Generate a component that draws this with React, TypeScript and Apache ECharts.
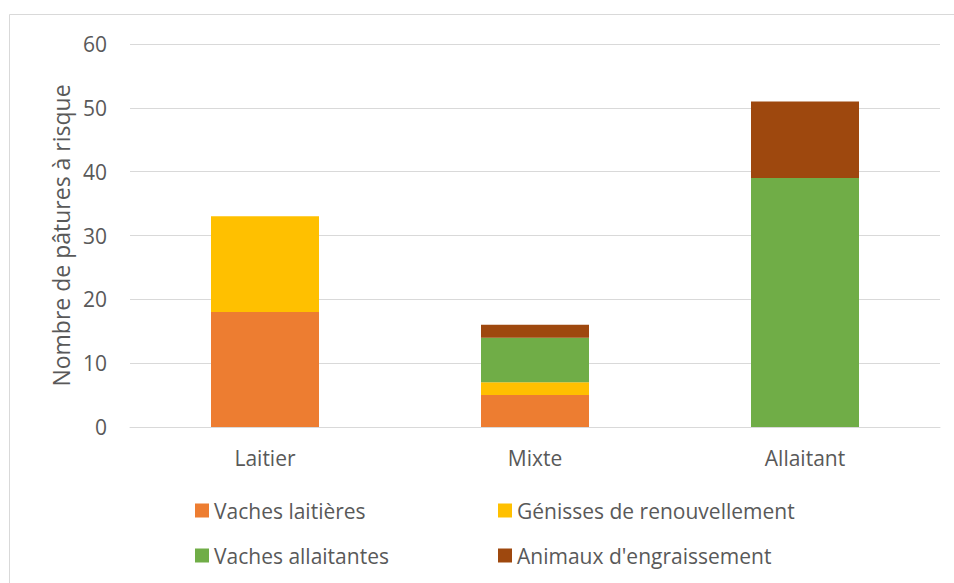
import React, { useEffect, useRef } from "react";
import * as echarts from "echarts";

const categories = ["Laitier", "Mixte", "Allaitant"];
const seriesNames = [
  "Vaches laitières",
  "Génisses de renouvellement",
  "Vaches allaitantes",
  "Animaux d'engraissement",
];
const vachesLaitieres = [18, 5, 0];
const genisses = [15, 2, 0];
const vachesAllaitantes = [0, 7, 39];
const animauxEngraissement = [0, 2, 12];
const colors = ["#ED7D31", "#FFC000", "#70AD47", "#9E480E"];
const yTicks = [0, 10, 20, 30, 40, 50, 60];

const FONT = "Open Sans";
const TEXT = "#595959";

export default function App() {
  const ref = useRef<HTMLDivElement>(null);
  useEffect(() => {
    document.body.style.margin = "0";
    const chart = echarts.init(ref.current!, null, { renderer: "svg" });
    const values = [vachesLaitieres, genisses, vachesAllaitantes, animauxEngraissement];
    const legendPos = [
      { left: 195, top: 500 },
      { left: 498, top: 500 },
      { left: 195, top: 545 },
      { left: 498, top: 545 },
    ];
    chart.setOption({
      animation: false,
      textStyle: { fontFamily: FONT },
      grid: { left: 130, right: 14, top: 44, bottom: 156 },
      graphic: [
        {
          type: "rect",
          shape: { x: 9.5, y: 14.5, width: 1000, height: 700 },
          style: { fill: "none", stroke: "#D9D9D9", lineWidth: 1 },
          silent: true,
        },
      ],
      legend: seriesNames.map((n, i) => ({
        data: [n],
        left: legendPos[i].left,
        top: legendPos[i].top,
        itemWidth: 14,
        itemHeight: 14,
        itemGap: 0,
        icon: "rect",
        textStyle: { fontFamily: FONT, fontSize: 21, color: TEXT },
        padding: 0,
        selectedMode: false,
      })),
      xAxis: {
        type: "category",
        data: categories,
        axisLine: { show: true, lineStyle: { color: "#D9D9D9", width: 1 } },
        axisTick: { show: false },
        axisLabel: { fontFamily: FONT, fontSize: 21, color: TEXT, margin: 20 },
      },
      yAxis: {
        type: "value",
        min: yTicks[0],
        max: yTicks[yTicks.length - 1],
        interval: 10,
        name: "Nombre de pâtures à risque",
        nameLocation: "middle",
        nameGap: 57,
        nameTextStyle: { fontFamily: FONT, fontSize: 23, color: TEXT },
        axisLine: { show: false },
        axisTick: { show: false },
        splitLine: { lineStyle: { color: "#D9D9D9", width: 1 } },
        axisLabel: { fontFamily: FONT, fontSize: 21, color: TEXT, margin: 23 },
      },
      series: seriesNames.map((n, i) => ({
        name: n,
        type: "bar",
        stack: "total",
        data: values[i],
        barWidth: "40%",
        itemStyle: { color: colors[i] },
      })),
    });
    return () => chart.dispose();
  }, []);
  return <div ref={ref} style={{ width: 954, height: 583 }} />;
}
